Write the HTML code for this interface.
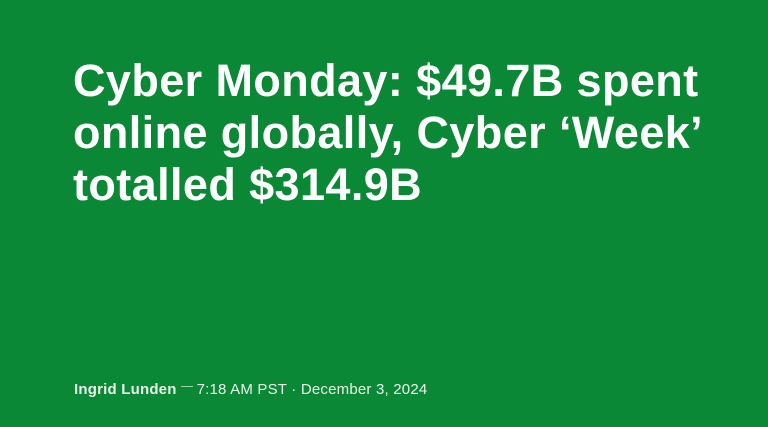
<!DOCTYPE html>
<html><head><meta charset="utf-8"><style>
html,body{margin:0;padding:0;}
body{width:768px;height:427px;background:#0b8836;overflow:hidden;position:relative;font-family:"Liberation Sans",sans-serif;color:#fff;}
h1{position:absolute;left:73px;top:55px;margin:0;font-size:45px;line-height:52px;font-weight:bold;letter-spacing:0.4px;width:680px;}
.meta{position:absolute;left:74px;top:381px;font-size:15px;letter-spacing:0.2px;color:#e8f3ea;white-space:nowrap;}
.author{font-weight:bold;}
.dash{display:inline-block;width:12px;height:1px;background:#9fd0ad;vertical-align:middle;margin:0 4px 0 4px;position:relative;top:-4px;}
</style></head><body>
<h1>Cyber Monday: $49.7B spent online globally, Cyber ‘Week’ totalled $314.9B</h1>
<div class="meta"><span class="author">Ingrid Lunden</span><span class="dash"></span><span>7:18 AM PST · December 3, 2024</span></div>
</body></html>
